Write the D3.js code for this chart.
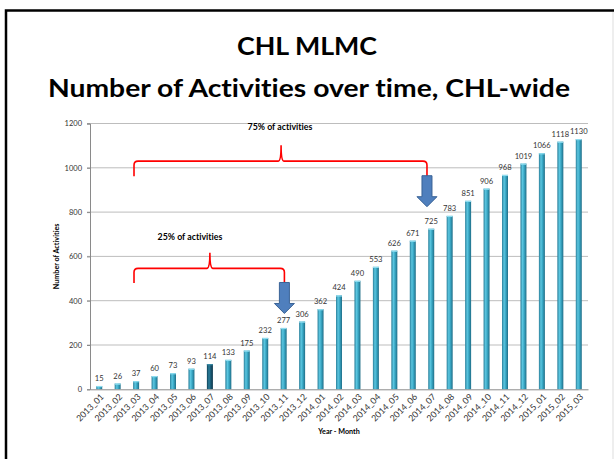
<!DOCTYPE html>
<html>
<head>
<meta charset="utf-8">
<script src="https://cdn.jsdelivr.net/npm/d3@7"></script>
<style>
  html, body { margin: 0; padding: 0; background: #fff; }
  svg { display: block; font-variant-ligatures: none; }
  text { font-variant-ligatures: none; }
</style>
</head>
<body>
<svg id="chart" width="614" height="459"></svg>
<script>
const categories = ["2013_01","2013_02","2013_03","2013_04","2013_05","2013_06","2013_07","2013_08","2013_09","2013_10","2013_11","2013_12",
  "2014_01","2014_02","2014_03","2014_04","2014_05","2014_06","2014_07","2014_08","2014_09","2014_10","2014_11","2014_12",
  "2015_01","2015_02","2015_03"];
const activities = [15,26,37,60,73,93,114,133,175,232,277,306,362,424,490,553,626,671,725,783,851,906,968,1019,1066,1118,1130];
const yTicks = [0,200,400,600,800,1000,1200];
const titleLines = ["CHL MLMC", "Number of Activities over time, CHL-wide"];
const xAxisTitle = "Year - Month";
const yAxisTitle = "Number of Activities";
const darkBar = "2013_07";
const annotations = [
  { label: "75% of activities", from: "2013_03", to: "2014_07" },
  { label: "25% of activities", from: "2013_03", to: "2013_11" }
];

const svg = d3.select("#chart");
const FONT = "Lato, 'Liberation Sans', sans-serif";

// frame
svg.append("path")
  .attr("d", "M6,459 V10.5 H614")
  .attr("fill", "none").attr("stroke", "#000").attr("stroke-width", 2.5);
svg.append("line").attr("x1", 613).attr("x2", 613).attr("y1", 12).attr("y2", 459)
  .attr("stroke", "#ddd").attr("stroke-width", 1);

// titles
svg.append("text").attr("x", 307).attr("y", 55)
  .attr("text-anchor", "middle").attr("font-family", FONT).attr("font-weight", "bold")
  .attr("font-size", 25).attr("fill", "#000")
  .attr("textLength", 140).attr("lengthAdjust", "spacingAndGlyphs")
  .text(titleLines[0]);
svg.append("text").attr("x", 309).attr("y", 97)
  .attr("text-anchor", "middle").attr("font-family", FONT).attr("font-weight", "bold")
  .attr("font-size", 25).attr("fill", "#000")
  .attr("textLength", 522).attr("lengthAdjust", "spacingAndGlyphs")
  .text(titleLines[1]);

const margin = { left: 90, right: 588, top: 123.5, bottom: 389.3 };
const x = d3.scaleBand().domain(categories).range([margin.left, margin.right]).padding(0);
const y = d3.scaleLinear().domain([0, 1200]).range([margin.bottom, margin.top]);
const xi = d3.scaleLinear().domain([-0.5, categories.length - 0.5]).range([margin.left, margin.right]);
const barW = 6;

// gradients
const defs = svg.append("defs");
function grad(id, stops) {
  const g = defs.append("linearGradient").attr("id", id).attr("x1", "0").attr("x2", "1").attr("y1", "0").attr("y2", "0");
  stops.forEach(s => g.append("stop").attr("offset", s[0]).attr("stop-color", s[1]));
}
grad("barGrad", [[0, "#2a7f9a"], [0.35, "#5cc6e0"], [0.6, "#3aa9c6"], [1, "#1f6d87"]]);
grad("barGradDark", [[0, "#0f3f55"], [0.35, "#2b7f9c"], [0.6, "#1c5f7a"], [1, "#0c3448"]]);

// gridlines
svg.append("g").selectAll("line").data(yTicks.filter(t => t > 0)).join("line")
  .attr("x1", margin.left - 3).attr("x2", margin.right)
  .attr("y1", d => y(d)).attr("y2", d => y(d))
  .attr("stroke", "#bdbdbd").attr("stroke-width", 1);

// y axis
const yAxis = svg.append("g").attr("transform", `translate(${margin.left},0)`)
  .call(d3.axisLeft(y).tickValues(yTicks).tickFormat(d3.format("d")).tickSize(3).tickPadding(5));
yAxis.select(".domain").attr("stroke", "#8a8a8a");
yAxis.selectAll(".tick line").attr("stroke", "#8a8a8a");
yAxis.selectAll("text").attr("font-family", FONT).attr("font-size", 7.5).attr("fill", "#333");

// bars
svg.append("g").selectAll("rect").data(categories).join("rect")
  .attr("x", d => x(d) + x.bandwidth() / 2 - barW / 2)
  .attr("width", barW)
  .attr("y", (d, i) => y(activities[i]))
  .attr("height", (d, i) => y(0) - y(activities[i]))
  .attr("fill", d => d === darkBar ? "url(#barGradDark)" : "url(#barGrad)");
// light top caps
svg.append("g").selectAll("rect").data(categories).join("rect")
  .attr("x", d => x(d) + x.bandwidth() / 2 - barW / 2)
  .attr("width", barW).attr("height", 1.2)
  .attr("y", (d, i) => y(activities[i]))
  .attr("fill", d => d === darkBar ? "#3a8aa5" : "#8fdcef");

// value labels
svg.append("g").selectAll("text").data(categories).join("text")
  .attr("x", d => x(d) + x.bandwidth() / 2)
  .attr("y", (d, i) => y(activities[i]) - 5)
  .attr("text-anchor", "middle").attr("font-family", FONT).attr("font-size", 7.6).attr("fill", "#333")
  .text((d, i) => activities[i]);

// x axis
const xAxis = svg.append("g").attr("transform", `translate(0,${margin.bottom})`)
  .call(d3.axisBottom(x).tickSize(0).tickPadding(0));
xAxis.select(".domain").attr("stroke", "#8a8a8a");
xAxis.selectAll(".tick text")
  .attr("font-family", FONT).attr("font-size", 8.8).attr("fill", "#333")
  .attr("text-anchor", "end").attr("y", 0).attr("dy", "0.35em")
  .attr("transform", "translate(3,6) rotate(-45)");

// axis titles
svg.append("text").attr("x", (margin.left + margin.right) / 2).attr("y", 434)
  .attr("text-anchor", "middle").attr("font-family", FONT).attr("font-weight", "bold")
  .attr("font-size", 7.2).attr("fill", "#000").text(xAxisTitle);
svg.append("text").attr("transform", `translate(59,${(margin.top + margin.bottom) / 2}) rotate(-90)`)
  .attr("text-anchor", "middle").attr("font-family", FONT).attr("font-weight", "bold")
  .attr("font-size", 7.2).attr("fill", "#000").text(yAxisTitle);

// annotations: braces + arrows
const braceGeom = [
  { x1: xi(1.886), x2: xi(17.77), xm: xi(9.86), yh: y(1030), yb: y(962), yp: y(1102), ty: 130, tx: 280 },
  { x1: xi(1.886), x2: xi(10.04), xm: xi(6.0), yh: y(546), yb: y(480), yp: y(616), ty: 240, tx: 190 }
];
const ann = svg.append("g");
annotations.forEach((a, k) => {
  const g = braceGeom[k];
  const r = 4;
  const p = d3.path();
  p.moveTo(g.x1, g.yb);
  p.lineTo(g.x1, g.yh + r);
  p.quadraticCurveTo(g.x1, g.yh, g.x1 + r, g.yh);
  p.lineTo(g.xm - 3, g.yh);
  p.quadraticCurveTo(g.xm, g.yh, g.xm, g.yp);
  p.quadraticCurveTo(g.xm, g.yh, g.xm + 3, g.yh);
  p.lineTo(g.x2 - r, g.yh);
  p.quadraticCurveTo(g.x2, g.yh, g.x2, g.yh + r);
  p.lineTo(g.x2, g.yb);
  ann.append("path").attr("d", p.toString()).attr("fill", "none")
    .attr("stroke", "#ff0000").attr("stroke-width", 1.6);
  // arrow
  const ax = g.x2, top = g.yb - 0.5, headY = top + 21, tip = top + 31;
  const arrow = `M${ax - 5},${top} H${ax + 5} V${headY} H${ax + 10} L${ax},${tip} L${ax - 10},${headY} H${ax - 5} Z`;
  ann.append("path").attr("d", arrow).attr("fill", "#4f7fbd").attr("stroke", "#3a6396").attr("stroke-width", 1);
  ann.append("text").attr("x", g.tx).attr("y", g.ty).attr("text-anchor", "middle")
    .attr("font-family", FONT).attr("font-weight", "bold").attr("font-size", 8.8).attr("fill", "#000")
    .text(a.label);
});
</script>
</body>
</html>
